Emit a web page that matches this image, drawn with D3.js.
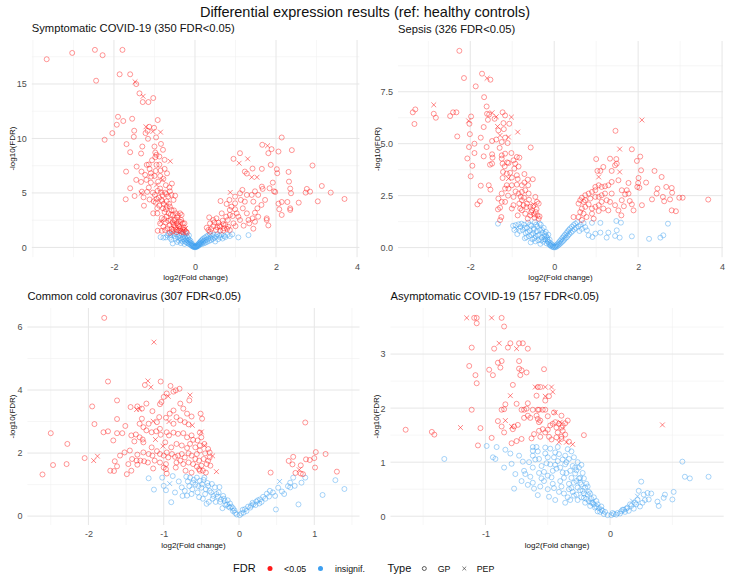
<!DOCTYPE html>
<html><head><meta charset="utf-8">
<script src="https://cdn.jsdelivr.net/npm/d3@7"></script>
<style>body{margin:0;background:#fff}svg{display:block;font-family:"Liberation Sans",Arial,Helvetica,sans-serif}</style>
</head><body><svg id="c" width="730" height="580"></svg>
<script>
// ---------- DATA: [log2 fold change, -log10 FDR] ----------
const symptomaticSigGP=[[-3.66,17.27],[-3.03,17.85],[-2.47,18.13],[-2.28,17.64],[-1.79,18.13],[-2.44,15.3],[-1.86,15.89],[-1.60,15.89],[-1.45,14.99],[-1.37,14.14],[-1.29,13.34],[-1.15,13.34],[-1.03,13.71],[-1.90,11.99],[-1.93,11.26],[-1.77,11.6],[-1.55,11.81],[-2.04,10.49],[-2.23,9.88],[-1.50,10.71],[-1.51,10.15],[-1.69,9.48],[-1.60,8.74],[-1.70,6.96],[-1.71,4.42],[-1.60,5.43],[-1.49,4.72],[-1.44,7.42],[-1.45,6.2],[-1.33,6.01],[-1.32,6.96],[-1.31,5.12],[-1.30,9.26],[-1.33,8.62],[-1.26,3.83],[-1.17,10.71],[-1.22,10.49],[-1.16,9.97],[-1.13,11.07],[-1.01,10.98],[-0.92,11.69],[-1.19,7.58],[-1.14,7.61],[-1.23,6.66],[-1.09,5.95],[-1.14,5.49],[-1.04,5.03],[-1.00,9.26],[-0.98,8.71],[-0.98,8.28],[-0.95,7.58],[-0.97,7.02],[-1.02,4.23],[-1.03,3.13],[-0.92,1.53],[-0.82,1.53],[-0.79,8.96],[-0.75,8.04],[-0.85,7.06],[-0.75,7.21],[-0.86,6.56],[-0.72,5.71],[-0.57,5.86],[-0.84,5.06],[-0.74,5.03],[-0.62,5.15],[-0.58,4.82],[-0.49,4.75],[-0.97,4.11],[-0.83,4.36],[-0.88,3.83],[-0.79,3.59],[-0.93,3.13],[-0.82,2.70],[-0.75,3.25],[-0.62,3.74],[-0.58,3.44],[-0.72,2.30],[-0.78,1.90],[-0.63,2.02],[-0.52,2.52],[-0.37,3.13],[-0.44,2.76],[-0.34,2.52],[-0.30,2.21],[-0.39,1.90],[-0.26,1.60],[-0.37,1.53],[-0.53,1.60],[-0.62,1.35],[-0.95,8.50],[-0.88,8.34],[-1.09,6.81],[-1.08,6.50],[-1.00,6.56],[-0.91,6.04],[-0.99,4.82],[-0.95,4.45],[-0.89,4.57],[-0.81,4.26],[-0.77,3.99],[-0.70,4.23],[-0.66,4.66],[-0.53,4.36],[-0.70,3.74],[-0.65,3.13],[-0.55,2.98],[-0.47,3.13],[-0.49,2.52],[-0.45,2.21],[-0.53,2.06],[-0.33,2.98],[-0.26,2.21],[-0.45,1.60],[-0.33,1.44],[-0.70,2.82],[-0.74,1.60],[-0.60,2.52],[-0.42,2.05],[-0.36,1.75],[-0.31,1.65],[-0.28,1.85],[-0.40,2.40],[-0.48,1.85],[-0.55,2.30],[-0.58,1.70],[-0.66,2.45],[-0.68,1.75],[-0.60,3.00],[-0.52,3.40],[-0.42,2.95],[-0.35,2.35],[-0.22,1.45],[-0.20,1.35],[-0.46,1.40],[-0.40,1.55],[-0.50,2.00],[-0.72,3.50],[-0.64,4.00],[-0.80,4.80],[-0.86,5.40],[-0.92,5.20],[-0.78,6.30],[-0.69,6.80],[-0.88,7.60],[-0.84,9.50],[-0.96,10.10],[-1.06,8.00],[-1.12,7.20],[-1.20,6.20],[-1.18,5.10],[-1.27,4.60],[-1.12,4.40],[-0.93,3.60],[-0.86,2.20],[-0.76,2.60],[-0.57,1.45],[-0.29,1.38],[-0.63,5.50],[-0.71,4.90],
[2.14,10.09],[1.66,9.42],[1.89,9.02],[1.81,8.65],[2.06,8.80],[2.39,8.93],[1.11,8.65],[0.95,8.13],[1.42,7.24],[1.65,7.21],[1.87,7.58],[2.02,7.18],[2.03,6.81],[2.31,6.93],[2.90,7.52],[1.23,6.96],[1.28,6.78],[2.32,6.04],[1.92,5.95],[1.65,5.58],[1.67,5.37],[1.84,5.43],[1.95,5.15],[1.98,5.09],[2.35,5.40],[2.37,4.97],[2.76,5.37],[2.73,5.03],[2.84,5.12],[3.13,5.64],[3.35,5.03],[3.03,4.23],[3.69,4.45],[2.56,4.11],[2.28,4.17],[2.14,4.17],[2.06,4.02],[2.08,3.50],[2.14,2.98],[2.35,3.59],[2.35,3.44],[1.73,4.36],[1.64,3.90],[1.54,3.59],[1.48,3.19],[1.42,2.67],[1.56,2.82],[1.77,2.52],[1.81,2.02],[1.77,2.67],[1.48,2.36],[1.32,2.52],[1.34,2.21],[1.44,1.72],[1.18,3.59],[1.11,4.97],[1.17,5.28],[0.99,4.66],[1.13,4.36],[0.99,4.05],[1.23,4.20],[1.44,4.20],[1.28,4.82],[1.40,4.82],[1.56,4.82],[1.48,5.15],[0.85,4.36],[0.78,3.99],[0.90,3.74],[0.99,3.50],[1.03,3.13],[1.07,2.82],[1.11,2.52],[1.28,3.13],[0.86,3.44],[0.86,2.98],[0.77,2.82],[0.81,2.52],[0.66,3.13],[0.63,4.26],[0.53,2.67],[0.58,2.27],[0.45,2.52],[0.35,2.76],[0.37,2.21],[0.45,1.96],[0.52,1.60],[0.62,1.90],[0.70,2.15],[0.72,1.75],[0.82,1.90],[0.86,1.60],[0.62,1.53],[0.33,1.60],[0.29,1.81],[0.37,1.44],[0.95,2.21],[0.93,2.88],[0.68,2.45],[0.75,2.05],[0.60,2.00],[0.40,1.70],[0.55,1.85],[0.48,2.30],[0.70,1.55],[0.79,1.70],[1.00,1.95],[1.20,2.00]];
const symptomaticSigPEP=[[-1.48,15.2],[-1.28,13.87],[-1.21,11.07],[-1.04,10.64],[-0.85,10.58],[-0.61,7.91],[-0.80,6.2],[-0.95,5.74],[-1.33,4.97],[-0.84,2.36],[-0.23,1.75],[1.79,9.33],[1.09,7.73],[1.30,8.13],[1.40,6.44],[1.53,6.44],[0.87,5.05]];
const symptomaticNsGP=[[-0.72,0.92],[-0.62,0.89],[-0.55,0.37],[-0.50,1.05],[-0.48,0.80],[-0.45,1.20],[-0.42,0.95],[-0.40,0.62],[-0.38,1.10],[-0.36,0.85],[-0.34,0.72],[-0.33,1.25],[-0.31,0.55],[-0.30,0.95],[-0.28,0.78],[-0.27,1.15],[-0.25,0.60],[-0.24,0.88],[-0.22,0.48],[-0.21,0.70],[-0.20,1.02],[-0.19,0.40],[-0.18,0.62],[-0.17,0.85],[-0.16,0.35],[-0.15,0.52],[-0.14,0.70],[-0.13,0.28],[-0.12,0.45],[-0.11,0.60],[-0.10,0.22],[-0.09,0.38],[-0.08,0.15],[-0.07,0.30],[-0.06,0.10],[-0.05,0.20],[-0.04,0.06],[-0.03,0.14],[-0.02,0.03],[-0.01,0.08],[0.00,0.01],[0.01,0.05],[0.02,0.10],[0.03,0.04],[0.04,0.15],[0.05,0.08],[0.06,0.22],[0.07,0.12],[0.08,0.30],[0.09,0.18],[0.10,0.38],[0.11,0.25],[0.12,0.46],[0.13,0.32],[0.14,0.55],[0.15,0.40],[0.16,0.62],[0.17,0.30],[0.18,0.70],[0.19,0.48],[0.20,0.80],[0.21,0.58],[0.22,0.38],[0.24,0.90],[0.25,0.65],[0.26,0.45],[0.28,1.00],[0.29,0.72],[0.30,0.52],[0.32,1.10],[0.33,0.82],[0.35,0.60],[0.37,1.20],[0.38,0.90],[0.40,0.68],[0.42,1.05],[0.44,0.78],[0.46,1.15],[0.48,0.88],[0.50,0.55],[0.52,1.00],[0.55,1.22],[0.57,0.75],[0.60,1.08],[0.62,0.92],[0.65,1.18],[0.68,0.82],[0.72,1.05],[0.75,0.95],[0.80,1.15],[0.86,1.04],[0.92,1.20],[1.07,0.92],[1.32,1.13],[-0.60,1.15],[-0.65,1.25],[-0.52,1.28],[-0.44,0.50],[-0.35,0.40],[-0.26,0.32],[-0.23,1.28],[-0.15,1.10],[-0.58,0.70],[-0.68,1.10],[-0.85,0.95],[-0.78,0.90]];
const symptomaticNsPEP=[];

const sepsisSigGP=[[-2.26,9.47],[-2.15,8.16],[-1.72,8.37],[-1.52,8.08],[-1.87,7.76],[-1.67,7.24],[-1.61,6.79],[-3.31,6.65],[-3.37,6.51],[-2.87,6.44],[-2.82,6.25],[-3.33,5.95],[-2.48,6.33],[-2.41,6.51],[-2.33,6.51],[-2.31,5.35],[-1.98,6.31],[-2.02,5.96],[-2.01,5.46],[-2.03,4.84],[-2.07,4.29],[-1.95,3.94],[-1.99,3.43],[-1.90,4.55],[-1.90,5.00],[-1.75,5.29],[-1.68,5.80],[-1.58,6.15],[-1.60,6.44],[-1.55,6.41],[-1.23,6.51],[-1.17,6.36],[-1.07,5.96],[-1.21,5.99],[-1.33,5.64],[-1.17,5.29],[-1.25,5.08],[-1.11,5.03],[-1.48,5.13],[-1.61,4.84],[-1.68,4.39],[-1.48,4.49],[-1.47,4.33],[-1.53,3.99],[-1.48,4.04],[-1.56,3.00],[-1.75,2.98],[-1.52,2.79],[-1.77,2.23],[-1.83,2.08],[-1.25,4.44],[-1.25,4.28],[-1.17,4.52],[-1.02,4.55],[-1.23,4.04],[-1.18,3.91],[-1.09,4.07],[-0.97,4.20],[-0.89,4.36],[-0.83,4.33],[-0.93,4.04],[-1.22,3.64],[-1.23,3.35],[-1.13,3.56],[-1.01,3.37],[-0.89,3.48],[-0.87,3.30],[-0.71,3.54],[-0.63,3.27],[-0.56,4.82],[-0.51,3.29],[-0.71,3.13],[-0.77,3.00],[-0.89,3.03],[-1.01,3.00],[-1.13,3.00],[-1.17,2.84],[-1.09,2.84],[-1.25,2.60],[-1.33,2.36],[-1.25,2.20],[-1.17,2.20],[-1.29,1.92],[-1.34,1.84],[-1.26,1.47],[-1.29,1.32],[-0.97,2.44],[-0.85,2.60],[-0.77,2.68],[-0.69,2.76],[-0.61,2.60],[-0.45,2.44],[-0.41,2.20],[-0.37,2.12],[-0.77,2.28],[-0.83,2.12],[-0.73,2.04],[-0.65,2.12],[-0.57,1.96],[-0.53,1.80],[-0.44,1.71],[-0.40,1.55],[-0.47,1.44],[-0.37,1.39],[-0.57,1.55],[-0.69,1.63],[-0.77,1.80],[-0.81,1.88],[-0.97,2.04],[-1.01,1.88],[-0.87,1.55],[-0.63,1.39],[-0.60,2.30],[-0.50,2.00],[-0.55,1.70],[-0.66,1.95],[-0.72,2.40],[-0.80,2.45],[-0.92,2.70],[-0.95,3.80],[-1.05,3.60],[-1.12,4.10],[-1.30,4.80],[-1.38,5.20],[-1.42,6.20],[-1.10,2.50],[-0.48,1.60],[-0.42,1.85],[-0.35,1.50],[-0.62,3.00],[-0.85,3.90],[-1.20,5.70],
[1.46,5.62],[1.85,4.73],[2.05,4.38],[1.97,4.17],[1.00,4.26],[1.33,4.28],[1.48,4.26],[1.49,4.04],[1.45,3.96],[2.07,3.72],[2.39,3.69],[1.37,3.69],[1.17,3.88],[1.10,3.69],[1.03,3.69],[2.56,3.40],[2.19,3.13],[2.01,3.35],[2.00,3.11],[1.98,2.92],[2.03,2.88],[2.67,2.92],[2.46,2.84],[2.44,2.60],[2.33,2.32],[2.80,2.87],[2.81,2.64],[2.59,2.44],[2.62,2.23],[2.76,2.32],[2.98,2.40],[3.06,2.40],[3.67,2.31],[2.80,1.79],[2.90,1.75],[2.09,2.04],[1.85,2.08],[1.80,2.24],[1.89,1.79],[1.66,1.99],[1.61,2.28],[1.60,1.55],[1.53,1.79],[1.45,2.04],[1.69,2.56],[1.61,2.76],[1.73,2.76],[1.77,2.60],[1.77,3.11],[1.53,3.24],[1.37,3.16],[1.29,3.00],[1.21,2.95],[1.13,2.92],[1.06,3.00],[0.98,2.92],[0.98,2.76],[0.90,2.68],[0.82,2.60],[0.74,2.52],[0.66,2.40],[0.62,2.28],[0.74,2.28],[0.86,2.36],[0.98,2.44],[1.06,2.44],[1.13,2.52],[1.21,2.60],[1.37,2.60],[1.13,2.20],[1.06,2.04],[0.98,1.96],[0.90,1.88],[0.82,2.08],[0.74,1.96],[0.66,1.88],[0.70,1.63],[0.62,1.71],[0.58,1.47],[0.77,1.47],[0.90,1.63],[1.06,1.76],[1.17,1.88],[1.29,1.79],[1.33,2.20],[1.25,2.28],[0.70,2.20],[0.58,2.12],[0.46,1.47],[0.66,1.33],[0.94,1.39]];
const sepsisSigPEP=[[-1.60,8.15],[-2.87,6.87],[-2.04,6.10],[-1.48,6.49],[-1.38,6.30],[-1.02,6.28],[-1.35,5.83],[-1.29,5.40],[-1.09,5.32],[-0.87,5.56],[-1.09,3.32],[-0.49,2.08],[2.09,6.14],[1.56,4.74],[1.56,3.64],[1.06,3.40]];
const sepsisNsGP=[[-1.34,1.15],[-0.98,1.05],[-0.92,1.08],[-0.85,1.12],[-0.80,1.00],[-0.75,0.85],[-0.72,1.10],[-0.68,0.70],[-0.65,0.95],[-0.62,1.20],[-0.60,0.55],[-0.58,0.82],[-0.55,1.05],[-0.52,0.40],[-0.50,0.68],[-0.48,0.92],[-0.46,1.22],[-0.44,0.55],[-0.42,0.78],[-0.40,1.02],[-0.38,0.35],[-0.36,0.62],[-0.34,0.85],[-0.32,1.10],[-0.30,0.48],[-0.28,0.72],[-0.26,0.28],[-0.25,0.95],[-0.23,0.55],[-0.21,0.38],[-0.20,0.75],[-0.18,0.20],[-0.17,0.48],[-0.15,0.30],[-0.14,0.62],[-0.12,0.15],[-0.11,0.38],[-0.09,0.22],[-0.08,0.08],[-0.06,0.15],[-0.05,0.04],[-0.03,0.10],[-0.02,0.02],[0.00,0.01],[0.02,0.06],[0.03,0.02],[0.05,0.12],[0.06,0.05],[0.08,0.18],[0.09,0.10],[0.11,0.25],[0.12,0.15],[0.14,0.32],[0.15,0.20],[0.17,0.40],[0.18,0.26],[0.20,0.48],[0.21,0.32],[0.23,0.55],[0.24,0.38],[0.26,0.62],[0.27,0.45],[0.29,0.70],[0.30,0.50],[0.32,0.78],[0.33,0.58],[0.35,0.85],[0.36,0.65],[0.38,0.92],[0.40,0.72],[0.42,1.00],[0.44,0.80],[0.46,1.08],[0.48,0.88],[0.50,1.15],[0.52,0.95],[0.55,1.22],[0.58,1.02],[0.60,0.80],[0.63,1.10],[0.66,0.90],[0.70,1.18],[0.74,0.98],[0.78,0.83],[0.82,0.59],[0.90,1.19],[0.91,0.51],[0.98,0.67],[1.10,0.72],[1.10,1.19],[1.25,0.48],[1.29,0.72],[1.45,0.56],[1.48,1.28],[1.49,0.83],[1.56,0.48],[1.59,1.20],[1.85,0.54],[2.26,0.42],[2.53,0.48],[2.60,0.59],[2.71,1.15],[-0.70,0.45],[-0.56,0.25],[-0.33,0.18],[-0.45,0.30],[-0.95,0.85],[-0.88,0.65],[-0.82,0.80],[-0.78,1.15],[-0.70,0.95],[-0.66,0.50],[-0.63,0.75],[-0.58,1.10],[-0.54,0.60],[-0.49,0.85],[-0.47,0.45],[-0.43,1.10],[-0.39,0.58],[-0.35,1.15],[-0.31,0.35],[-0.29,0.85],[-0.24,0.40],[-0.22,0.65],[-0.19,0.55],[-0.16,0.38],[-0.13,0.25],[-0.10,0.12]];
const sepsisNsPEP=[[-0.90,0.91]];

const coldSigGP=[[-1.79,6.29],[-1.74,4.27],[-1.04,4.27],[-1.25,4.16],[-0.91,4.13],[-0.79,4.04],[-0.96,3.89],[-0.87,3.95],[-0.84,3.99],[-1.00,3.78],[-0.66,3.67],[-1.62,3.67],[-1.95,3.48],[-1.44,3.46],[-1.35,3.48],[-1.29,3.41],[-1.15,3.33],[-1.05,3.55],[-1.03,3.62],[-1.23,3.57],[-0.78,3.57],[-0.74,3.41],[-0.87,3.35],[-0.92,3.25],[-0.97,3.12],[-0.83,3.14],[-0.69,3.25],[-0.63,3.16],[-0.51,3.25],[-0.49,3.09],[-1.62,3.08],[-1.92,2.92],[-1.51,2.86],[-1.29,3.09],[-1.32,2.93],[-1.27,2.82],[-1.20,2.93],[-1.09,2.98],[-1.06,3.14],[-0.87,2.93],[-0.78,3.04],[-0.72,2.98],[-0.67,2.91],[-2.50,2.63],[-1.80,2.66],[-1.74,2.69],[-1.62,2.63],[-1.67,2.40],[-1.55,2.63],[-1.43,2.56],[-1.37,2.59],[-1.39,2.37],[-1.32,2.50],[-1.28,2.43],[-1.27,2.34],[-1.23,2.72],[-1.16,2.66],[-1.10,2.69],[-1.05,2.77],[-1.04,2.58],[-0.96,2.66],[-0.93,2.56],[-0.87,2.65],[-0.81,2.61],[-0.74,2.63],[-0.69,2.50],[-0.63,2.56],[-0.61,2.42],[-0.52,2.65],[-0.50,2.50],[-0.55,2.40],[-2.28,2.29],[-0.98,2.34],[-0.90,2.18],[-0.83,2.29],[-0.76,2.24],[-0.69,2.16],[-0.65,2.29],[-0.58,2.18],[-0.52,2.24],[-0.46,2.29],[-0.41,2.13],[-1.45,2.08],[-1.35,1.95],[-1.27,2.02],[-1.20,1.97],[-1.15,1.92],[-1.09,2.06],[-1.05,1.97],[-1.00,1.92],[-0.96,2.02],[-0.94,1.86],[-0.89,1.97],[-0.85,1.88],[-0.81,1.92],[-0.76,1.97],[-0.72,1.86],[-0.67,1.99],[-0.63,1.92],[-0.56,1.97],[-0.52,2.08],[-0.45,1.99],[-0.39,2.02],[-0.58,1.81],[-0.53,1.76],[-0.47,1.81],[-0.41,1.76],[-0.39,1.86],[-0.43,1.65],[-0.50,1.60],[-0.56,1.57],[-0.53,1.49],[-0.48,1.44],[-0.61,1.65],[-0.67,1.70],[-0.74,1.65],[-0.78,1.76],[-0.83,1.70],[-0.97,1.65],[-1.00,1.54],[-1.05,1.70],[-1.12,1.76],[-1.21,1.70],[-1.26,1.74],[-1.31,1.76],[-1.14,1.51],[-0.97,1.49],[-0.96,1.35],[-0.84,1.54],[-0.71,1.44],[-0.63,1.38],[-0.44,1.38],[-0.38,1.60],[-1.36,1.76],[-1.42,1.81],[-1.47,1.65],[-1.49,1.33],[-1.43,1.44],[-1.35,1.63],[-1.65,1.74],[-1.62,1.58],[-1.71,1.44],[-1.66,1.43],[-2.05,1.84],[-2.47,1.62],[-2.29,1.65],[-2.61,1.32],[-1.58,1.92],[-1.52,2.02],[-1.16,2.18],[-0.52,1.44],
[0.88,2.97],[1.02,2.03],[1.15,1.97],[1.00,1.84],[0.94,1.78],[0.89,1.80],[0.72,1.88],[0.66,1.75],[0.71,1.64],[0.75,1.37],[0.82,1.61],[0.82,1.35],[0.85,1.33],[1.01,1.54],[1.30,1.41],[0.42,1.38]];
const coldSigPEP=[[-1.13,5.52],[-1.21,4.29],[-1.17,4.09],[-0.94,3.80],[-0.65,3.84],[-1.32,3.40],[-1.14,3.01],[-0.93,3.00],[-0.62,2.88],[-1.11,2.43],[-1.01,2.22],[-0.35,1.91],[-0.30,1.41],[-1.93,1.76],[-1.88,1.90],[0.80,1.47],[-0.50,2.67],[-0.46,2.24],[-1.36,3.38]];
const coldNsGP=[[-1.20,1.20],[-1.13,0.84],[-1.02,1.22],[-1.00,0.96],[-0.97,0.82],[-0.90,0.44],[-0.88,1.27],[-0.76,0.91],[-0.70,1.25],[-0.75,0.64],[-0.69,0.65],[-0.65,1.22],[-0.61,1.06],[-0.56,1.22],[-0.52,1.12],[-0.49,1.01],[-0.46,1.22],[-0.44,0.85],[-0.41,0.96],[-0.39,0.80],[-0.43,0.39],[-0.34,0.64],[-0.32,0.91],[-0.27,0.75],[-0.24,0.53],[-0.21,0.64],[-0.16,0.37],[-0.12,0.27],[-0.08,0.16],[-0.03,0.05],[0.01,0.03],[0.06,0.11],[0.10,0.16],[0.15,0.27],[0.19,0.37],[0.23,0.46],[0.28,0.53],[0.32,0.61],[0.37,0.71],[0.41,0.80],[0.48,0.64],[0.49,0.21],[0.57,0.78],[0.68,1.06],[0.68,0.91],[0.72,1.22],[0.74,0.96],[0.79,0.37],[0.83,1.06],[0.88,1.22],[1.11,0.67],[1.28,1.14],[1.40,0.86],[-0.08,0.25],[-0.12,0.40],[-0.15,0.50],[-0.18,0.35],[-0.20,0.55],[-0.25,0.45],[-0.28,0.62],[-0.30,0.70],[-0.35,0.55],[-0.37,0.75],[-0.45,0.70],[-0.50,0.90],[-0.55,0.75],[-0.58,1.00],[-0.62,0.85],[-0.66,0.95],[-0.72,0.80],[-0.80,1.10],[-0.85,0.75],[0.05,0.20],[0.12,0.30],[0.18,0.42],[0.22,0.35],[0.25,0.50],[0.30,0.45],[0.35,0.55],[0.40,0.62],[0.45,0.75],[0.52,0.90],[0.60,0.70],[0.65,0.95],[-0.05,0.10],[0.03,0.08],[-0.42,1.05],[-0.47,1.15],[-0.53,0.60],[-0.40,0.45],[-0.22,0.25],[-0.10,0.30],[-0.60,1.15],[-0.54,0.95],[-0.48,0.55],[-0.36,1.02],[-0.31,0.45],[-0.26,0.92],[-0.19,0.48],[-0.14,0.30],[-0.06,0.18],[0.08,0.22],[0.16,0.33],[0.27,0.40],[-0.63,0.70],[-0.68,1.10]];
const coldNsPEP=[[0.54,1.10],[-0.92,1.03]];

const asymptomaticSigGP=[[-1.09,3.67],[-1.07,3.67],[-0.87,3.67],[-1.07,3.57],[-0.85,3.51],[-0.80,3.20],[-0.73,3.20],[-0.70,3.20],[-0.66,3.10],[-1.11,3.12],[-0.93,3.10],[-0.82,3.12],[-1.13,2.78],[-0.90,2.84],[-0.87,2.87],[-0.88,2.75],[-0.73,2.87],[-0.97,2.71],[-0.94,2.61],[-1.08,2.61],[-1.07,2.46],[-0.73,2.73],[-0.71,2.70],[-0.72,2.61],[-0.67,2.66],[-0.53,2.72],[-0.78,2.43],[-0.58,2.39],[-0.56,2.39],[-0.59,2.23],[-0.49,2.22],[-0.52,2.14],[-0.66,2.09],[-0.75,2.08],[-0.84,2.07],[-1.11,1.97],[-0.87,1.97],[-0.85,1.98],[-0.71,1.97],[-0.69,1.97],[-0.67,1.99],[-0.62,1.97],[-0.58,1.97],[-0.57,1.97],[-0.54,1.97],[-0.52,1.97],[-0.45,1.92],[-0.59,1.86],[-0.58,1.80],[-0.56,1.77],[-0.57,1.74],[-0.50,1.85],[-0.39,1.86],[-0.69,1.82],[-0.64,1.82],[-0.66,1.86],[-0.74,1.69],[-0.90,1.76],[-0.77,1.66],[-0.87,1.66],[-0.85,1.55],[-0.78,1.61],[-1.04,1.63],[-1.64,1.60],[-1.43,1.56],[-1.41,1.51],[-0.95,1.45],[-1.06,1.31],[-0.79,1.35],[-0.75,1.39],[-0.71,1.43],[-0.63,1.44],[-0.61,1.52],[-0.57,1.58],[-0.54,1.61],[-0.52,1.55],[-0.50,1.60],[-0.49,1.47],[-0.48,1.68],[-0.46,1.71],[-0.44,1.74],[-0.41,1.71],[-0.38,1.68],[-0.36,1.72],[-0.34,1.77],[-0.43,1.64],[-0.39,1.64],[-0.42,1.55],[-0.38,1.58],[-0.36,1.51],[-0.39,1.47],[-0.43,1.46],[-0.39,1.43],[-0.33,1.38],[-0.21,1.50],[-0.47,1.42],[-0.56,1.47]];
const asymptomaticSigPEP=[[-1.15,3.67],[-0.95,3.67],[-0.89,3.20],[-0.75,3.10],[-0.80,2.23],[-0.60,2.39],[-0.52,2.39],[-0.47,2.39],[-0.46,2.30],[-0.52,2.22],[-0.44,1.92],[-0.84,1.77],[-0.79,1.66],[-1.20,1.64],[-0.40,1.74],[-0.41,1.37],[-0.35,1.37],[-0.30,1.33],[0.42,1.69]];
const asymptomaticNsGP=[[-1.33,1.06],[-0.99,1.30],[-0.91,1.28],[-0.94,1.09],[-0.92,1.06],[-0.84,1.23],[-0.80,1.16],[-0.73,1.12],[-0.79,0.97],[-0.76,0.78],[-0.77,0.51],[-0.70,1.01],[-0.69,0.84],[-0.68,0.78],[-0.64,0.73],[-0.62,1.28],[-0.62,1.21],[-0.62,1.12],[-0.62,0.90],[-0.62,0.62],[-0.61,0.51],[-0.58,0.39],[-0.59,1.28],[-0.57,1.06],[-0.55,0.93],[-0.52,1.27],[-0.52,1.16],[-0.50,1.09],[-0.50,0.50],[-0.49,0.36],[-0.48,0.96],[-0.46,0.84],[-0.45,1.09],[-0.44,1.18],[-0.42,1.28],[-0.42,1.02],[-0.40,0.90],[-0.38,0.81],[-0.37,0.71],[-0.36,0.96],[-0.36,1.12],[-0.34,1.24],[-0.33,1.06],[-0.32,0.84],[-0.31,0.71],[-0.30,0.93],[-0.29,1.09],[-0.28,0.79],[-0.27,0.65],[-0.26,0.53],[-0.25,0.90],[-0.24,0.71],[-0.23,0.59],[-0.22,0.47],[-0.21,0.34],[-0.20,0.53],[-0.18,0.40],[-0.17,0.28],[-0.16,0.19],[-0.14,0.25],[-0.12,0.16],[-0.10,0.09],[-0.08,0.08],[-0.05,0.04],[-0.02,0.02],[0.01,0.02],[0.03,0.04],[0.06,0.06],[0.09,0.09],[0.11,0.12],[0.14,0.16],[0.17,0.19],[0.21,0.22],[0.23,0.47],[0.25,0.64],[0.27,0.40],[0.30,0.43],[0.31,0.31],[0.38,0.27],[0.39,0.19],[0.43,0.34],[0.44,0.40],[0.50,0.31],[0.51,0.45],[0.58,1.01],[0.60,0.73],[0.64,0.70],[0.79,0.73],[-0.55,0.70],[-0.50,0.75],[-0.46,0.60],[-0.44,0.95],[-0.40,0.65],[-0.38,1.05],[-0.35,0.80],[-0.33,0.60],[-0.30,0.45],[-0.28,0.90],[-0.27,0.40],[-0.25,0.70],[-0.23,0.35],[-0.22,0.80],[-0.20,0.25],[-0.19,0.60],[-0.17,0.45],[-0.15,0.32],[-0.13,0.22],[-0.11,0.28],[-0.09,0.15],[-0.07,0.12],[-0.04,0.08],[0.02,0.06],[0.05,0.03],[0.08,0.05],[0.12,0.08],[0.15,0.10],[0.19,0.14],[0.24,0.18],[0.26,0.25],[0.28,0.30],[0.33,0.42],[-0.65,1.00],[-0.58,1.20],[-0.48,1.25],[-0.56,0.55],[-0.41,0.45],[-0.34,0.35],[-0.29,0.62],[-0.31,1.20],[-0.26,1.00],[-0.24,0.48],[-0.21,0.42],[-0.60,1.05],[-0.57,0.80],[-0.53,0.65],[-0.51,0.98],[-0.47,0.72],[-0.45,0.52],[-0.43,0.88],[-0.41,1.15],[-0.39,0.55],[-0.37,0.42],[-0.35,1.00],[-0.33,0.50],[-0.32,0.30],[-0.29,0.38],[-0.27,0.85],[-0.26,0.30],[-0.24,0.62],[-0.23,0.95],[-0.21,0.70],[-0.19,0.32],[-0.18,0.55],[-0.16,0.42],[-0.15,0.25],[-0.13,0.35],[-0.11,0.18],[-0.10,0.22],[-0.07,0.18],[-0.06,0.10],[0.10,0.12],[0.13,0.14],[0.16,0.22],[0.20,0.25],[0.22,0.30],[-0.66,0.58],[-0.71,0.65],[-0.85,0.90],[-0.53,0.82],[-0.44,0.30],[-0.36,0.25],[-0.31,0.52]];
const asymptomaticNsPEP=[[0.18,0.28],[0.22,0.37]];

// ---------- TEXT / TICKS ----------
const mainTitle="Differential expression results (ref: healthy controls)";
const panelTitles=["Symptomatic COVID-19 (350 FDR<0.05)","Sepsis (326 FDR<0.05)","Common cold coronavirus (307 FDR<0.05)","Asymptomatic COVID-19 (157 FDR<0.05)"];
const xTickValues=[[-2,0,2,4],[-2,0,2,4],[-2,-1,0,1],[-1,0]];
const yTickValues=[[0,5,10,15],[0,2.5,5,7.5],[0,2,4,6],[0,1,2,3]];
const yTickFormats=["d",".1f","d","d"];
const xLabel="log2(Fold change)", yLabel="-log10(FDR)";
const fdrLevels=["<0.05","insignif."], typeLevels=["GP","PEP"];

// ---------- LAYOUT / STYLE ----------
const RED="#ff1a1a", BLUE="#3d9ff0";
const panels=[
 {sigGP:symptomaticSigGP,sigPEP:symptomaticSigPEP,nsGP:symptomaticNsGP,nsPEP:symptomaticNsPEP,box:{l:31.8,r:359.4,t:40,b:257.2},yTitleDx:20},
 {sigGP:sepsisSigGP,sigPEP:sepsisSigPEP,nsGP:sepsisNsGP,nsPEP:sepsisNsPEP,box:{l:398,r:723,t:41,b:257.2},yTitleDx:21},
 {sigGP:coldSigGP,sigPEP:coldSigPEP,nsGP:coldNsGP,nsPEP:coldNsPEP,box:{l:27.4,r:359.5,t:308,b:525},yTitleDx:15.5},
 {sigGP:asymptomaticSigGP,sigPEP:asymptomaticSigPEP,nsGP:asymptomaticNsGP,nsPEP:asymptomaticNsPEP,box:{l:390.5,r:723.7,t:308,b:525},yTitleDx:14}
];

const svg=d3.select("#c");
svg.append("rect").attr("width",730).attr("height",580).attr("fill","#fff");
svg.append("text").attr("x",365).attr("y",16.5).attr("text-anchor","middle")
  .attr("font-size",14.5).attr("fill","#111").text(mainTitle);

function minorTicks(major,dom){
  const step=major.length>1?major[1]-major[0]:1;
  const out=[];
  for(let v=major[0]-step*1.5;v<=major[major.length-1]+step*1.5+1e-9;v+=step/2){
    const r=Math.round(v*1000)/1000;
    if(!major.some(m=>Math.abs(m-r)<1e-9)&&r>=dom[0]&&r<=dom[1])out.push(r);
  }
  return out;
}
const crossPath="M-2.4,-2.4L2.4,2.4M-2.4,2.4L2.4,-2.4";

panels.forEach((p,i)=>{
  const all=p.sigGP.concat(p.sigPEP,p.nsGP,p.nsPEP);
  const xe=d3.extent(all,d=>d[0]), ye=d3.extent(all,d=>d[1]);
  const xp=(xe[1]-xe[0])*0.05, yp=(ye[1]-ye[0])*0.05;
  const x=d3.scaleLinear().domain([xe[0]-xp,xe[1]+xp]).range([p.box.l,p.box.r]);
  const y=d3.scaleLinear().domain([ye[0]-yp,ye[1]+yp]).range([p.box.b,p.box.t]);
  const g=svg.append("g");
  const xt=xTickValues[i].filter(v=>v>=x.domain()[0]&&v<=x.domain()[1]);
  const yt=yTickValues[i];
  minorTicks(xTickValues[i],x.domain()).forEach(v=>g.append("line").attr("x1",x(v)).attr("x2",x(v)).attr("y1",p.box.t).attr("y2",p.box.b).attr("stroke","#f0f0f0").attr("stroke-width",0.6));
  minorTicks(yt,y.domain()).forEach(v=>g.append("line").attr("y1",y(v)).attr("y2",y(v)).attr("x1",p.box.l).attr("x2",p.box.r).attr("stroke","#f0f0f0").attr("stroke-width",0.6));
  xt.forEach(v=>g.append("line").attr("x1",x(v)).attr("x2",x(v)).attr("y1",p.box.t).attr("y2",p.box.b).attr("stroke","#e6e6e6").attr("stroke-width",1));
  yt.forEach(v=>g.append("line").attr("y1",y(v)).attr("y2",y(v)).attr("x1",p.box.l).attr("x2",p.box.r).attr("stroke","#e6e6e6").attr("stroke-width",1));
  const xa=g.append("g").attr("transform",`translate(0,${p.box.b})`)
    .call(d3.axisBottom(x).tickValues(xt).tickSize(0).tickPadding(6).tickFormat(d3.format("d")));
  const ya=g.append("g").attr("transform",`translate(${p.box.l},0)`)
    .call(d3.axisLeft(y).tickValues(yt).tickSize(0).tickPadding(5).tickFormat(d3.format(yTickFormats[i])));
  [xa,ya].forEach(a=>{a.select(".domain").remove();a.selectAll("text").attr("font-size",9).attr("fill","#4d4d4d").attr("font-family","Liberation Sans, Arial, sans-serif");});
  xa.selectAll("text").text(function(){return this.textContent.replace("−","-");});
  ya.selectAll("text").text(function(){return this.textContent.replace("−","-");});
  g.append("text").attr("x",p.box.l).attr("y",p.box.t-8).attr("font-size",11.2).attr("fill","#111").text(panelTitles[i]);
  g.append("text").attr("x",(p.box.l+p.box.r)/2).attr("y",p.box.b+22.5).attr("text-anchor","middle").attr("font-size",8).attr("fill","#111").text(xLabel);
  g.append("text").attr("transform",`translate(${p.box.l-p.yTitleDx},${(p.box.t+p.box.b)/2}) rotate(-90)`).attr("text-anchor","middle").attr("dy","0.35em").attr("font-size",8).attr("fill","#111").text(yLabel);
  const pg=g.append("g").attr("fill","none").attr("stroke-width",0.9);
  const drawC=(arr,col)=>pg.selectAll(null).data(arr).join("circle").attr("cx",d=>x(d[0])).attr("cy",d=>y(d[1])).attr("r",2.5).attr("stroke",col).attr("stroke-opacity",0.5);
  const drawX=(arr,col)=>pg.selectAll(null).data(arr).join("path").attr("d",crossPath).attr("transform",d=>`translate(${x(d[0])},${y(d[1])})`).attr("stroke",col).attr("stroke-opacity",0.6);
  drawC(p.nsGP,BLUE); drawX(p.nsPEP,BLUE);
  drawC(p.sigGP,RED); drawX(p.sigPEP,RED);
});

// ---------- LEGEND ----------
const lg=svg.append("g").attr("font-family","Liberation Sans, Arial, sans-serif");
const ly=568.5;
lg.append("text").attr("x",233).attr("y",ly).attr("dy","0.35em").attr("font-size",11).attr("fill","#111").text("FDR");
lg.append("circle").attr("cx",270).attr("cy",ly).attr("r",2.5).attr("fill",RED);
lg.append("text").attr("x",284).attr("y",ly).attr("dy","0.35em").attr("font-size",8.8).attr("fill","#111").text(fdrLevels[0]);
lg.append("circle").attr("cx",320.5).attr("cy",ly).attr("r",2.5).attr("fill",BLUE);
lg.append("text").attr("x",335).attr("y",ly).attr("dy","0.35em").attr("font-size",8.8).attr("fill","#111").text(fdrLevels[1]);
lg.append("text").attr("x",387.5).attr("y",ly).attr("dy","0.35em").attr("font-size",11).attr("fill","#111").text("Type");
lg.append("circle").attr("cx",424.3).attr("cy",ly).attr("r",2).attr("fill","none").attr("stroke","#333").attr("stroke-width",0.8);
lg.append("text").attr("x",437.7).attr("y",ly).attr("dy","0.35em").attr("font-size",8.8).attr("fill","#111").text(typeLevels[0]);
lg.append("path").attr("d",crossPath).attr("transform",`translate(464.3,${ly}) scale(0.8)`).attr("stroke","#333").attr("stroke-width",0.8);
lg.append("text").attr("x",476.7).attr("y",ly).attr("dy","0.35em").attr("font-size",8.8).attr("fill","#111").text(typeLevels[1]);
</script></body></html>
